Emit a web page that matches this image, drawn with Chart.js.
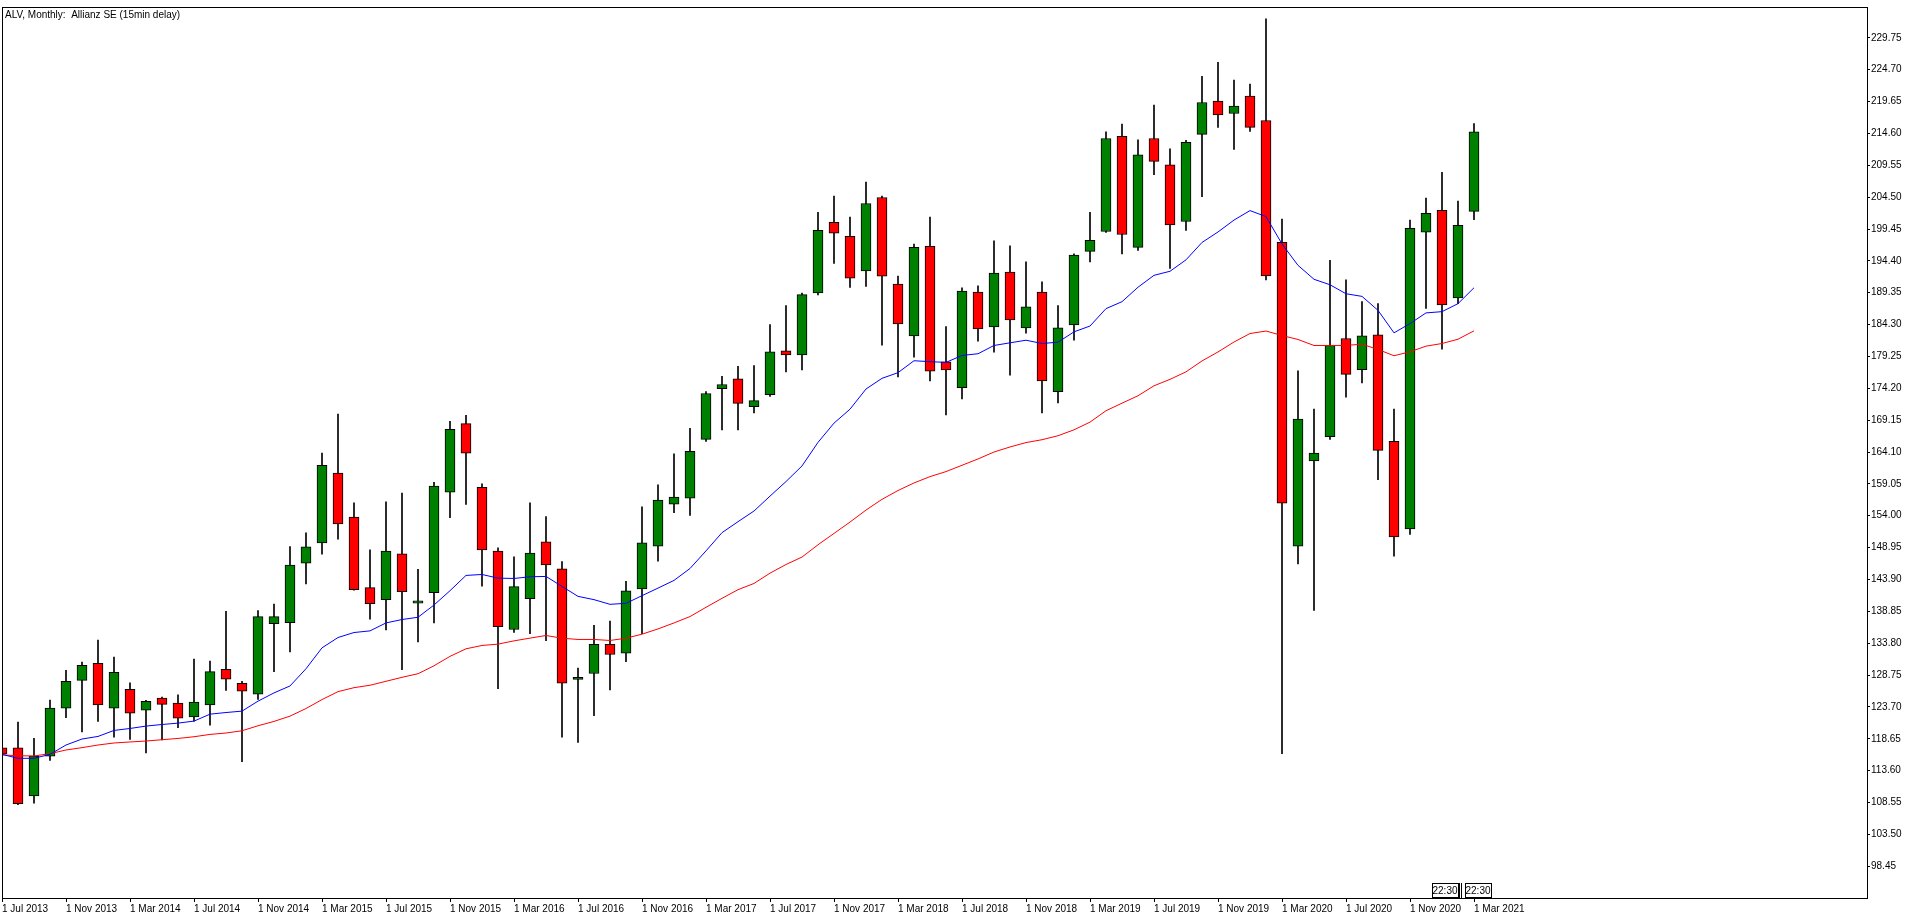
<!DOCTYPE html>
<html>
<head>
<meta charset="utf-8">
<title>ALV, Monthly: Allianz SE</title>
<script src="https://cdn.jsdelivr.net/npm/chart.js@4.4.1/dist/chart.umd.min.js"></script>
<style>
  html, body { margin: 0; padding: 0; background: #fff; overflow: hidden; }
</style>
</head>
<body>
<canvas id="alvChart" width="1916" height="919"></canvas>
<script>
// Monthly bars, Jul 2013 .. Mar 2021 (one entry per month)
const chartTitle = 'ALV, Monthly:  Allianz SE (15min delay)';
const markerText = '22:30';

const openPrices = [
  117.2, 117.2, 109.6, 115.9, 123.5, 127.9, 130.6, 123.5, 126.5, 123.2, 125.1, 124.3,
  122.1, 124.0, 129.65, 127.45, 125.7, 136.9, 137.07, 146.5, 149.7, 160.75, 153.8, 142.6,
  140.7, 147.96, 140.15, 141.8, 157.75, 168.6, 158.5, 148.4, 135.97, 140.86, 149.85, 145.6,
  128.05, 129.0, 133.6, 132.2, 142.4, 149.16, 155.85, 156.8, 166.1, 174.16, 175.7, 171.3,
  173.2, 180.15, 179.5, 189.3, 200.5, 198.3, 192.8, 204.45, 190.73, 182.5, 196.7, 178.4,
  174.3, 189.46, 183.94, 192.62, 183.78, 189.46, 173.68, 184.25, 195.9, 199.06, 214.13, 196.53,
  213.8, 209.63, 200.64, 214.44, 219.73, 217.76, 220.52, 216.65, 197.32, 149.19, 162.68, 166.55,
  182.1, 177.15, 182.68, 165.79, 151.91, 198.93, 202.4, 188.52, 202.25
];
const highPrices = [
  117.5, 121.3, 118.7, 124.8, 129.5, 130.8, 134.3, 131.6, 127.5, 124.75, 125.25, 125.6,
  131.3, 130.95, 138.85, 127.75, 138.95, 140.0, 149.1, 151.3, 163.95, 170.1, 156.06, 148.6,
  156.2, 157.6, 145.5, 159.3, 168.95, 169.9, 159.05, 148.9, 147.5, 156.06, 153.85, 146.75,
  129.86, 136.65, 137.3, 143.6, 155.4, 158.9, 163.8, 167.85, 173.7, 176.1, 177.7, 177.8,
  184.3, 187.3, 189.3, 202.1, 204.66, 201.35, 206.87, 204.66, 191.99, 197.08, 201.35, 183.99,
  190.14, 190.46, 197.56, 196.77, 194.24, 191.09, 187.3, 195.5, 202.1, 214.84, 216.1, 213.58,
  219.1, 212.15, 213.5, 223.67, 225.88, 223.04, 222.41, 232.75, 201.03, 176.96, 170.89, 194.48,
  191.4, 187.93, 187.62, 170.89, 200.87, 204.34, 208.45, 203.87, 216.18
];
const lowPrices = [
  115.8, 108.2, 108.45, 115.2, 122.0, 119.75, 121.4, 118.9, 118.55, 116.4, 118.45, 120.4,
  121.45, 120.8, 126.3, 115.0, 124.9, 129.3, 132.4, 143.2, 147.9, 150.27, 142.2, 137.6,
  135.9, 129.6, 134.0, 137.0, 153.7, 155.8, 142.85, 126.6, 135.5, 135.3, 134.2, 118.9,
  118.07, 122.3, 126.4, 130.86, 135.3, 146.8, 154.5, 154.05, 165.8, 167.6, 167.6, 170.3,
  172.9, 176.8, 177.1, 189.0, 193.98, 190.2, 190.35, 181.04, 175.99, 179.14, 175.36, 169.99,
  172.5, 181.67, 179.93, 176.3, 182.93, 170.3, 171.88, 181.82, 194.24, 198.9, 195.5, 196.06,
  208.05, 193.22, 199.22, 204.58, 215.55, 212.08, 214.92, 191.4, 116.3, 146.35, 139.01, 166.08,
  172.8, 175.04, 159.73, 147.58, 151.05, 186.87, 180.4, 187.62, 200.92
];
const closePrices = [
  116.2, 108.35, 115.9, 123.5, 127.76, 130.3, 124.0, 129.2, 122.7, 124.6, 124.1, 121.9,
  124.45, 129.3, 128.1, 126.2, 138.0, 138.0, 146.2, 149.06, 162.0, 152.7, 142.3, 140.07,
  148.4, 141.96, 140.5, 158.7, 167.7, 163.9, 148.6, 136.4, 142.76, 148.1, 146.2, 127.45,
  128.4, 133.6, 132.0, 142.1, 149.7, 156.5, 156.96, 164.2, 173.37, 174.8, 171.8, 172.26,
  180.0, 179.5, 189.04, 199.25, 198.8, 191.67, 203.5, 191.99, 184.4, 196.56, 176.93, 177.1,
  189.6, 183.6, 192.46, 185.04, 187.1, 175.36, 183.78, 195.3, 197.64, 213.8, 198.58, 211.2,
  210.18, 200.08, 213.18, 219.5, 217.52, 218.94, 215.55, 192.03, 155.98, 169.31, 163.95, 180.99,
  176.4, 182.52, 164.37, 150.64, 199.56, 201.93, 187.41, 200.04, 214.87
];

// moving averages as they appear on the chart
const maFast = [
  116.18, 115.55, 115.55, 116.18, 117.66, 118.61, 119.02, 119.97, 120.28, 120.66, 120.91, 121.13,
  121.45, 122.55, 122.81, 123.03, 124.61, 125.92, 127.02, 129.75, 133.06, 134.7, 135.49, 135.75,
  137.01, 137.55, 137.91, 139.85, 142.12, 144.54, 144.69, 144.11, 144.06, 144.33, 144.38, 142.8,
  141.22, 140.7, 139.96, 140.12, 141.33, 142.53, 143.75, 145.64, 148.43, 151.32, 153.06, 154.75,
  157.11, 159.42, 161.9, 165.63, 168.68, 170.89, 174.09, 175.78, 176.68, 178.57, 178.42, 178.31,
  179.41, 179.68, 180.99, 181.41, 181.82, 181.3, 181.51, 183.15, 184.07, 186.83, 187.93, 190.22,
  192.11, 192.75, 194.56, 197.32, 198.98, 200.87, 202.37, 201.42, 197.08, 193.69, 191.48, 190.61,
  189.19, 188.77, 186.56, 182.99, 184.46, 186.15, 186.35, 187.62, 190.14
];
const maSlow = [
  116.08, 115.97, 115.92, 116.29, 116.87, 117.24, 117.66, 117.98, 118.14, 118.29, 118.5, 118.7,
  118.97, 119.34, 119.56, 119.92, 120.71, 121.4, 122.24, 123.44, 124.86, 126.12, 126.75, 127.13,
  127.76, 128.39, 128.96, 130.22, 131.71, 132.91, 133.44, 133.65, 134.17, 134.6, 135.02, 134.59,
  134.39, 134.39, 134.23, 134.59, 135.23, 136.06, 137.01, 138.02, 139.49, 140.91, 142.28, 143.27,
  144.9, 146.27, 147.45, 149.4, 151.2, 153.0, 154.9, 156.6, 158.0, 159.2, 160.2, 161.0,
  162.0, 163.0, 164.1, 164.9, 165.6, 166.05, 166.68, 167.62, 168.84, 170.65, 171.84, 173.02,
  174.6, 175.62, 176.81, 178.54, 179.96, 181.54, 182.88, 183.28, 182.57, 181.94, 180.99, 180.99,
  181.0, 181.19, 180.36, 179.36, 179.99, 180.88, 181.3, 181.98, 183.31
];

// time axis labels, every 4th bar
const xTickIndex = [0, 4, 8, 12, 16, 20, 24, 28, 32, 36, 40, 44, 48, 52, 56, 60, 64, 68, 72, 76, 80, 84, 88, 92];
const xTickLabels = [
  '1 Jul 2013', '1 Nov 2013', '1 Mar 2014', '1 Jul 2014', '1 Nov 2014', '1 Mar 2015',
  '1 Jul 2015', '1 Nov 2015', '1 Mar 2016', '1 Jul 2016', '1 Nov 2016', '1 Mar 2017',
  '1 Jul 2017', '1 Nov 2017', '1 Mar 2018', '1 Jul 2018', '1 Nov 2018', '1 Mar 2019',
  '1 Jul 2019', '1 Nov 2019', '1 Mar 2020', '1 Jul 2020', '1 Nov 2020', '1 Mar 2021'
];

// price axis labels
const yTickValues = [
  98.45, 103.50, 108.55, 113.60, 118.65, 123.70, 128.75, 133.80, 138.85,
  143.90, 148.95, 154.00, 159.05, 164.10, 169.15, 174.20, 179.25, 184.30,
  189.35, 194.40, 199.45, 204.50, 209.55, 214.60, 219.65, 224.70, 229.75
];

const axisFont = { family: '"Liberation Sans", Arial, sans-serif', size: 10 };

const barIdx = openPrices.map((_, i) => i);
const bodyData = barIdx.map(i => ({ x: i, y: [openPrices[i], closePrices[i]] }));
const wickData = barIdx.map(i => ({ x: i, y: [lowPrices[i], highPrices[i]] }));
const bodyColors = barIdx.map(i => closePrices[i] >= openPrices[i] ? '#008000' : '#ff0000');

// frame, title and the two time markers near the last bar
const framePlugin = {
  id: 'mtFrame',
  afterDraw(chart) {
    const { ctx, chartArea } = chart;
    ctx.save();
    ctx.strokeStyle = '#000';
    ctx.lineWidth = 1;
    ctx.strokeRect(chartArea.left + 0.5, chartArea.top + 0.5,
      chartArea.right - chartArea.left, chartArea.bottom - chartArea.top);

    ctx.fillStyle = '#000';
    ctx.font = '10px "Liberation Sans", Arial, sans-serif';
    ctx.textBaseline = 'top';
    ctx.textAlign = 'left';
    ctx.fillText(chartTitle, chartArea.left + 3, chartArea.top + 3);

    const px = Math.round(chart.scales.x.getPixelForValue(92));
    const top = chartArea.bottom - 15;
    const boxes = [px - 42, px - 9];
    ctx.textAlign = 'center';
    ctx.textBaseline = 'middle';
    boxes.forEach(bx => {
      ctx.fillStyle = '#fff';
      ctx.fillRect(bx, top, 26, 14);
      ctx.strokeRect(bx + 0.5, top + 0.5, 26, 14);
      ctx.fillStyle = '#000';
      ctx.fillText(markerText, bx + 13, top + 8);
    });
    ctx.beginPath();
    ctx.moveTo(px - 14.5, top);
    ctx.lineTo(px - 14.5, chartArea.bottom);
    ctx.moveTo(px - 12.5, top);
    ctx.lineTo(px - 12.5, chartArea.bottom);
    ctx.stroke();
    ctx.restore();
  }
};

const ctx = document.getElementById('alvChart').getContext('2d');
new Chart(ctx, {
  type: 'bar',
  data: {
    datasets: [
      {
        type: 'line', label: 'MA fast', order: 0,
        data: barIdx.map(i => ({ x: i, y: maFast[i] })),
        borderColor: '#0000ff', borderWidth: 1, pointRadius: 0, tension: 0, fill: false
      },
      {
        type: 'line', label: 'MA slow', order: 0,
        data: barIdx.map(i => ({ x: i, y: maSlow[i] })),
        borderColor: '#ff0000', borderWidth: 1, pointRadius: 0, tension: 0, fill: false
      },
      {
        label: 'Body', order: 1, data: bodyData,
        backgroundColor: bodyColors, borderColor: '#000', borderWidth: 1,
        borderSkipped: false, barThickness: 10, grouped: false
      },
      {
        label: 'Wick', order: 2, data: wickData,
        backgroundColor: '#000', borderWidth: 0,
        barThickness: 1, grouped: false
      }
    ]
  },
  options: {
    responsive: false,
    devicePixelRatio: 1,
    animation: false,
    events: [],
    layout: { padding: { left: 2, top: 2, right: 0, bottom: 0 } },
    plugins: {
      legend: { display: false },
      tooltip: { enabled: false },
      title: { display: false }
    },
    scales: {
      x: {
        type: 'linear', min: 0, max: 116.5625, offset: false,
        afterBuildTicks: scale => { scale.ticks = xTickIndex.map(v => ({ value: v })); },
        afterFit: scale => { scale.height = 21; },
        ticks: {
          autoSkip: false, maxRotation: 0, minRotation: 0, align: 'start',
          padding: 1, color: '#000', font: axisFont,
          callback: value => xTickLabels[xTickIndex.indexOf(value)]
        },
        grid: { display: true, drawOnChartArea: false, drawTicks: true, tickLength: 4, color: '#000', offset: false },
        border: { display: true, color: '#000', width: 1 }
      },
      y: {
        type: 'linear', position: 'right', min: 93.41, max: 234.64,
        afterBuildTicks: scale => { scale.ticks = yTickValues.map(v => ({ value: v })); },
        afterFit: scale => { scale.width = 49; },
        ticks: {
          autoSkip: false, padding: 1, color: '#000', font: axisFont,
          callback: value => Number(value).toFixed(2)
        },
        grid: { display: true, drawOnChartArea: false, drawTicks: true, tickLength: 3, color: '#000' },
        border: { display: true, color: '#000', width: 1 }
      }
    }
  },
  plugins: [framePlugin]
});
</script>
</body>
</html>
